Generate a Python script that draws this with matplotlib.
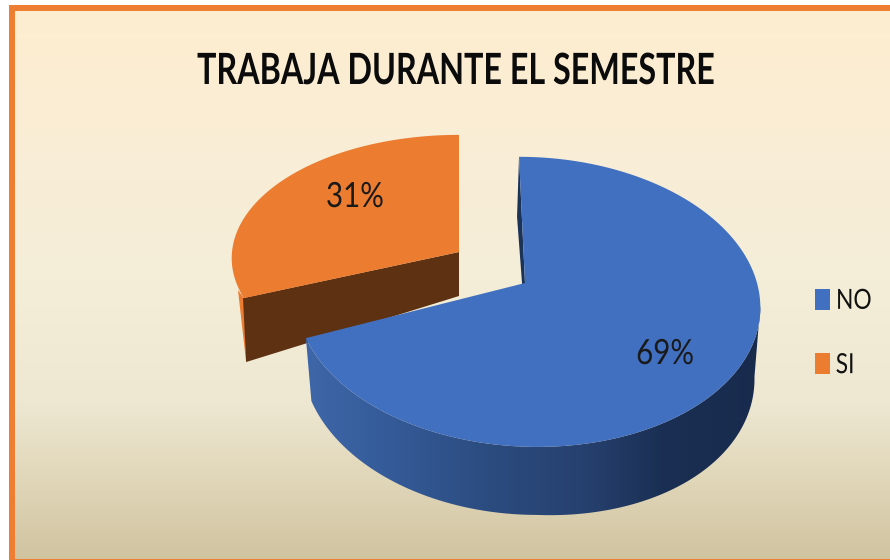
import numpy as np
import matplotlib
matplotlib.use("Agg")
import matplotlib.pyplot as plt
from matplotlib.colors import LinearSegmentedColormap
from matplotlib.patches import Patch, Rectangle, Polygon
from matplotlib.patheffects import AbstractPathEffect
from matplotlib.transforms import Affine2D

TITLE = "TRABAJA DURANTE EL SEMESTRE"
categories = ["NO", "SI"]
values = [69, 31]
colors = ["#4170C0", "#EC7C30"]
FONT = "Lato"


class Squeeze(AbstractPathEffect):
    """Narrow a text horizontally (the reference font is a condensed one)."""

    def __init__(self, factor, anchor="center"):
        super().__init__()
        self.factor, self.anchor = factor, anchor

    def draw_path(self, renderer, gc, tpath, affine, rgbFace=None):
        ext = tpath.get_extents(affine)
        x0 = ext.x0 if self.anchor == "left" else (ext.x0 + ext.x1) / 2
        t = affine + Affine2D().translate(-x0, 0).scale(self.factor, 1).translate(x0, 0)
        renderer.draw_path(gc, tpath, t, rgbFace)


W, H = 890, 560
fig = plt.figure(figsize=(W / 100, H / 100), dpi=100)
ax = fig.add_axes([0, 0, 1, 1])
ax.axis("off")

# background
stops = [(0, "#FEEDD0"), (0.27, "#F9EED6"), (0.54, "#F3EDD8"), (0.71, "#EEE8D3"), (0.86, "#E0D6B8"), (1, "#D0C3A0")]
cmap = LinearSegmentedColormap.from_list("bg", stops)
ax.imshow(np.linspace(0, 1, 256)[:, None], cmap=cmap, extent=[12, W, H, 8], aspect="auto", zorder=0)
border = "#EE7F32"
ax.add_patch(Rectangle((9, 5), 6, H, color=border, lw=0, zorder=1))
ax.add_patch(Rectangle((9, 5), W, 6, color=border, lw=0, zorder=1))
ax.add_patch(Rectangle((9, 558.5), W, 2, color=border, lw=0, zorder=1))


def proj(theta, cx, cy, a, b, k=0.13, s=9.0):
    """theta in degrees, clockwise from 12 o'clock"""
    t = np.radians(theta)
    u, v = np.sin(t), -np.cos(t)
    w = 1 - k * v
    return cx + (a * u + s * v) / w, cy + b * v / w, v


total = sum(values)
sweep = [360 * x / total for x in values]

# ---- SI slice (orange): ends at 12 o'clock, runs counter-clockwise
th = np.linspace(-sweep[1], 0, 120)
ox, oy, ov = proj(th, 459, 252, 227, 123, k=0.05, s=0)
bx = 459 + (ox - 459) * 0.99
by = oy + 44 + 20 * (459 - ox) / 216
ax.fill([ox[0] - 6, ox[0], bx[0]], [oy[0] - 8, oy[0], by[0]], color=colors[1], lw=0, zorder=2)
ax.fill([ox[0] - 1, bx[0], 459, 459], [oy[0], by[0], 296, 252], color="#5E3112", lw=0, zorder=3)
ax.fill(np.r_[459, ox], np.r_[252, oy], color=colors[1], lw=0, zorder=4)

# ---- NO slice (blue)
apex_x, apex_y = 525, 283
th = np.linspace(0, sweep[0], 300)
x, y, v = proj(th, 527, apex_y, 230, 142.6)
xb = 527 + (x - 527) * 0.975
yb = y + 60 + 8 * v + 10 * np.clip(np.sin(np.radians(th)), 0, 1)
# cut-face sliver
ax.fill([x[0], x[0] - 2, apex_x, apex_x], [y[0], y[0] + 60, apex_y + 40, apex_y], color="#1C3358", lw=0, zorder=5)
# side wall: horizontal gradient clipped to the wall outline
front = v >= 0.15
wall = np.c_[np.r_[x[front], xb[front][::-1]], np.r_[y[front], yb[front][::-1]]]
grad_cmap = LinearSegmentedColormap.from_list(
    "wall", [(0, "#3F68AA"), (0.2, "#345A97"), (0.42, "#2B4B7E"), (0.62, "#26406E"), (0.78, "#1A2F53"), (1, "#182B4D")])
im = ax.imshow(np.linspace(0, 1, 256)[None, :], cmap=grad_cmap, extent=[300, 765, 530, 290], aspect="auto", zorder=6)
clip = Polygon(wall, closed=True, transform=ax.transData, fc="none", ec="none")
ax.add_patch(clip)
im.set_clip_path(clip)
ax.fill(np.r_[apex_x, x], np.r_[apex_y, y], color=colors[0], lw=0, zorder=7)

ax.set_xlim(0, W)
ax.set_ylim(H, 0)

# text
ax.text(456, 71, TITLE, family=FONT, weight="bold", fontsize=31, ha="center", va="center", color="#0B0B0B",
        zorder=8, path_effects=[Squeeze(0.75)])
ax.text(355, 197, f"{values[1]}%", family=FONT, fontsize=25, ha="center", va="center", color="#1A1A1A",
        zorder=8, path_effects=[Squeeze(0.85)])
ax.text(665, 354, f"{values[0]}%", family=FONT, fontsize=25, ha="center", va="center", color="#1A1A1A",
        zorder=8, path_effects=[Squeeze(0.85)])

handles = [Patch(facecolor=c, edgecolor="none") for c in colors]
leg = ax.legend(handles, categories, loc="center left", bbox_to_anchor=(815 / W, 1 - 333 / H), frameon=False,
                prop={"family": FONT, "size": 20}, handlelength=0.54, handleheight=0.8, handletextpad=0.2,
                labelspacing=1.38, borderpad=0, borderaxespad=0, labelcolor="#111111")
for t in leg.get_texts():
    t.set_path_effects([Squeeze(0.82, "left")])

fig.savefig("out.png", dpi=100)
